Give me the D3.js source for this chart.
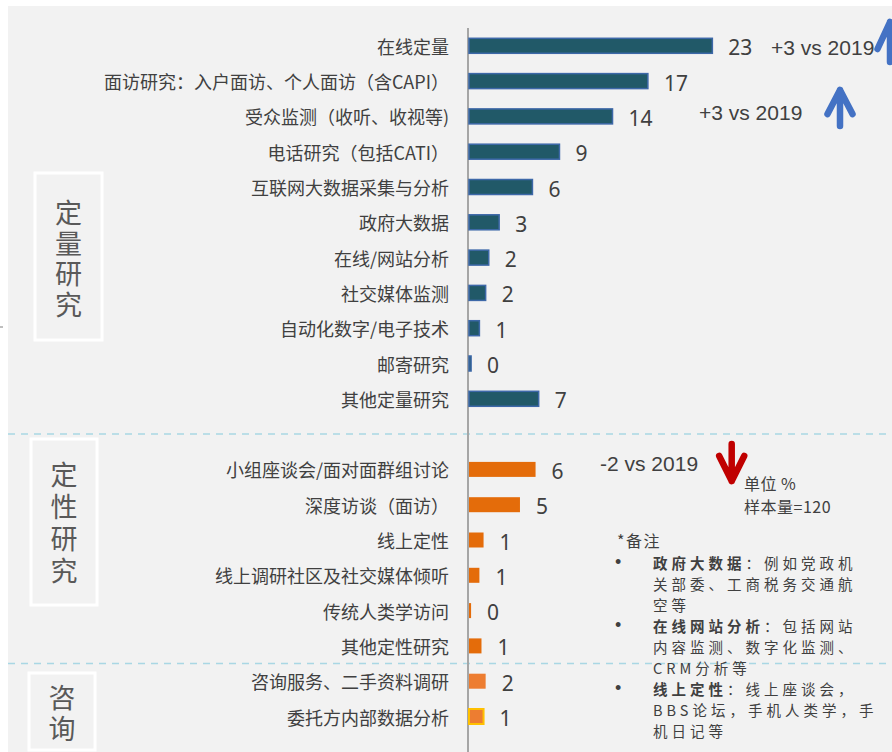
<!DOCTYPE html>
<html>
<head>
<meta charset="utf-8">
<script src="https://cdn.jsdelivr.net/npm/d3@7/dist/d3.min.js"></script>
<style>
  html, body { margin: 0; padding: 0; background: #ffffff; }
  svg { display: block; }
</style>
</head>
<body>
<svg id="chart" width="892" height="752"></svg>
<script>
// ---------------- data ----------------
const quantCats = ["在线定量", "面访研究：入户面访、个人面访（含CAPI）", "受众监测（收听、收视等)", "电话研究（包括CATI）",
  "互联网大数据采集与分析", "政府大数据", "在线/网站分析", "社交媒体监测", "自动化数字/电子技术", "邮寄研究", "其他定量研究"];
const quantValues = [23.4, 17.2, 13.8, 8.7, 6.1, 2.9, 1.9, 1.6, 1.0, 0.2, 6.7];

const qualCats = ["小组座谈会/面对面群组讨论", "深度访谈（面访）", "线上定性", "线上调研社区及社交媒体倾听", "传统人类学访问", "其他定性研究"];
const qualValues = [6.4, 4.9, 1.4, 1.0, 0.2, 1.2];

const consultCats = ["咨询服务、二手资料调研", "委托方内部数据分析"];
const consultValues = [1.6, 1.4];

const groupNames = ["定量研究", "定性研究", "咨询"];

const changeNotes = [
  { text: "+3 vs 2019", cat: "在线定量", dir: "up" },
  { text: "+3 vs 2019", cat: "受众监测（收听、收视等)", dir: "up" },
  { text: "-2 vs 2019", cat: "小组座谈会/面对面群组讨论", dir: "down" }
];

const unitLines = ["单位 %", "样本量=120"];
const notesTitle = "*备注";
const notes = [
  { bold: "政府大数据", lines: ["：例如党政机", "关部委、工商税务交通航", "空等"] },
  { bold: "在线网站分析", lines: ["：包括网站", "内容监测、数字化监测、", "CRM分析等"] },
  { bold: "线上定性", lines: ["：线上座谈会，", "BBS论坛，手机人类学，手", "机日记等"] }
];

// ---------------- setup ----------------
const svg = d3.select("#chart");
const W = 892, H = 752;
const CJK = "'Noto Sans CJK SC', 'Noto Sans', sans-serif";
const textColor = "#404040";

svg.append("rect").attr("x", 8).attr("y", 6).attr("width", W - 8).attr("height", H - 6).attr("fill", "#f2f2f2");
svg.append("line").attr("x1", 0).attr("x2", 3).attr("y1", 327).attr("y2", 327).attr("stroke", "#7f7f7f").attr("stroke-width", 1);

const GAP = "__gap__";
const allCats = [...quantCats, GAP, ...qualCats, ...consultCats];
const rows = [
  ...quantCats.map((c, i) => ({ cat: c, v: quantValues[i], group: "quant" })),
  ...qualCats.map((c, i) => ({ cat: c, v: qualValues[i], group: "qual" })),
  ...consultCats.map((c, i) => ({ cat: c, v: consultValues[i], group: "consult", last: i === consultCats.length - 1 }))
];

const y = d3.scalePoint().domain(allCats).range([45.8, 716.5]);
const x = d3.scaleLinear().domain([0, 10]).range([469, 573]);
const barH = 15;

// dashed separators
const sepY = [
  (y(quantCats[quantCats.length - 1]) + y(qualCats[0])) / 2,
  (y(qualCats[qualCats.length - 1]) + y(consultCats[0])) / 2
];
svg.selectAll("line.sep").data(sepY).join("line")
  .attr("class", "sep")
  .attr("x1", 8).attr("x2", W)
  .attr("y1", d => d).attr("y2", d => d)
  .attr("stroke", "#a9d7e4").attr("stroke-width", 1.5)
  .attr("stroke-dasharray", "7,6");

// group boxes with vertical text
const groupFont = 27;
const boxes = [
  { x: 35, y: 173, w: 67, h: 167, name: groupNames[0], cy0: 213, step: 30.5 },
  { x: 31, y: 439, w: 66, h: 166, name: groupNames[1], cy0: 475, step: 32 },
  { x: 29, y: 673, w: 66, h: 77, name: groupNames[2], cy0: 698, step: 31 }
];
boxes.forEach(b => {
  svg.append("rect").attr("x", b.x).attr("y", b.y).attr("width", b.w).attr("height", b.h)
    .attr("fill", "none").attr("stroke", "#ffffff").attr("stroke-width", 3);
  svg.append("text")
    .attr("x", b.x + b.w / 2)
    .attr("y", b.cy0 - groupFont / 2)
    .style("writing-mode", "vertical-rl")
    .attr("letter-spacing", b.step - groupFont)
    .attr("font-family", CJK).attr("font-size", groupFont).attr("fill", "#595959")
    .text(b.name);
});

// axis line
svg.append("line").attr("x1", 468).attr("x2", 468).attr("y1", 28).attr("y2", H)
  .attr("stroke", "#a6a6a6").attr("stroke-width", 2);

// category labels
svg.append("g").selectAll("text").data(rows).join("text")
  .attr("x", 449).attr("y", d => y(d.cat))
  .attr("text-anchor", "end").attr("dominant-baseline", "central")
  .attr("font-family", CJK).attr("font-size", 18).attr("fill", textColor)
  .text(d => d.cat);

// bars
const fillFor = d => d.group === "quant" ? "#215968" : d.group === "qual" ? "#e46c0a" : "#ed7d31";
const strokeFor = d => d.group === "quant" ? "#3d68a8" : d.last ? "#ffc000" : "none";
svg.append("g").selectAll("rect").data(rows).join("rect")
  .attr("x", x(0))
  .attr("y", d => y(d.cat) - barH / 2)
  .attr("width", d => x(d.v) - x(0))
  .attr("height", barH)
  .attr("fill", fillFor)
  .attr("stroke", strokeFor)
  .attr("stroke-width", d => d.last ? 2 : 1.5);

// value labels
svg.append("g").selectAll("text").data(rows).join("text")
  .attr("x", d => x(d.v) + 16)
  .attr("y", d => y(d.cat) + 9.5)
  .attr("font-family", "'Noto Sans', 'Open Sans', sans-serif").attr("font-size", 21).attr("fill", textColor)
  .text(d => Math.round(d.v));

// change annotations
const notePos = [
  { x: 771, dy: 9.5, ax: 890, tip: 22, tail: 62, head: 27 },
  { x: 699, dy: 3.5, ax: 840, tip: 90, tail: 126, head: 24 },
  { x: 600, dy: 2, ax: 731.7, tip: 481, tail: 444, head: 25 }
];
changeNotes.forEach((n, i) => {
  const p = notePos[i];
  svg.append("text").attr("x", p.x).attr("y", y(n.cat) + p.dy)
    .attr("font-family", "'Liberation Sans', Arial, sans-serif").attr("font-size", 21).attr("fill", textColor)
    .text(n.text);
  const color = n.dir === "up" ? "#4472c4" : "#c00000";
  const s = n.dir === "up" ? 1 : -1;
  const path = d3.path();
  path.moveTo(p.ax, p.tail); path.lineTo(p.ax, p.tip);
  path.moveTo(p.ax - 12.5, p.tip + s * p.head); path.lineTo(p.ax, p.tip); path.lineTo(p.ax + 12.5, p.tip + s * p.head);
  svg.append("path").attr("d", path.toString()).attr("fill", "none")
    .attr("stroke", color).attr("stroke-width", 6.5)
    .attr("stroke-linecap", "round").attr("stroke-linejoin", "round");
});

// unit text (one text block)
const unitText = svg.append("text")
  .attr("font-family", CJK).attr("font-size", 16).attr("fill", textColor);
unitLines.forEach((l, i) => {
  unitText.append("tspan").attr("x", 744).attr("y", 490 + i * 23).attr("letter-spacing", 0.5).text(l);
});

// notes (one text block)
const noteFont = 14.5, noteSpacing = 4, noteLine = 21;
const notesText = svg.append("text")
  .attr("font-family", CJK).attr("font-size", noteFont).attr("fill", textColor);
notesText.append("tspan").attr("x", 617).attr("y", 547).attr("font-size", 16).attr("letter-spacing", 1.5).text(notesTitle);
const noteBase = [569, 632, 695];
notes.forEach((n, i) => {
  const b = noteBase[i];
  notesText.append("tspan").attr("x", 615).attr("y", b - 1)
    .attr("font-family", "'Liberation Sans', Arial, sans-serif").attr("font-size", 18).text("•");
  notesText.append("tspan").attr("x", 653).attr("y", b).attr("letter-spacing", noteSpacing)
    .attr("font-weight", "bold").text(n.bold);
  notesText.append("tspan").attr("letter-spacing", noteSpacing).text(n.lines[0]);
  n.lines.slice(1).forEach((l, j) => {
    notesText.append("tspan").attr("x", 653).attr("y", b + (j + 1) * noteLine)
      .attr("letter-spacing", noteSpacing).text(l);
  });
});
</script>
</body>
</html>
